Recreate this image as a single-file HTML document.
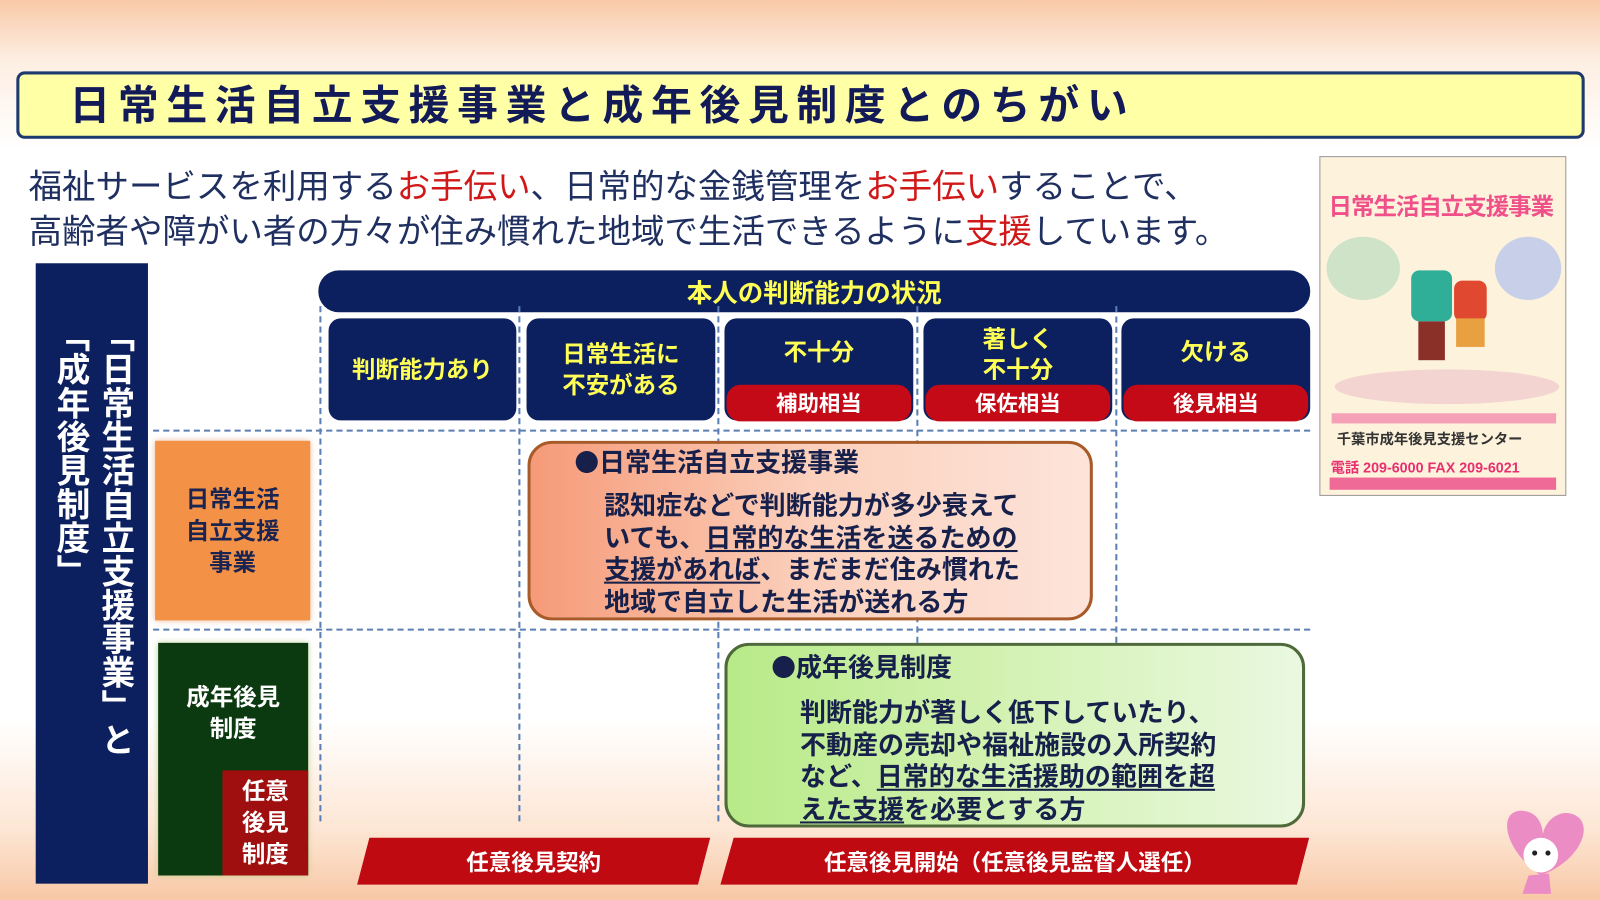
<!DOCTYPE html>
<html><head><meta charset="utf-8"><style>
*{margin:0;padding:0;box-sizing:border-box}
body{width:1600px;height:900px;position:relative;overflow:hidden;font-family:"Liberation Sans","Noto Sans CJK JP",sans-serif;font-weight:bold;
background:linear-gradient(180deg,#f9c9a8 0px,#fdeee2 60px,#ffffff 150px,#ffffff 720px,#fde6d4 830px,#f8c8a6 900px)}
#w{position:absolute;left:0;top:0;width:1568px;height:882px;transform:scale(1.0204);transform-origin:0 0}
.a{position:absolute}
.navy{background:#0c1f5e}
.c{display:flex;align-items:center;justify-content:center;text-align:center}
.cell{color:#ffff55;font-size:23px;line-height:30px;border-radius:12px}
.pill{color:#fff;font-size:21px;background:#c40a16;border-radius:14px;height:36px}
.dv{border-left:2px dashed #5b7fb5;width:0}
.dh{border-top:2px dashed #5b7fb5;height:0}
.t{color:#16204a;font-size:25.5px;line-height:31.5px;letter-spacing:0px;white-space:nowrap}
.b{font-family:"Noto Sans CJK JP",sans-serif;font-size:24px}
u{text-decoration-thickness:2px;text-underline-offset:3px}
</style></head><body><div id="w">
<div class="a" style="left:16px;top:70px;width:1537px;height:66px;background:#ffffa6;border:3px solid #1d3a6e;border-radius:8px"></div>
<div class="a" style="left:68px;top:80px;font-size:40px;letter-spacing:7.5px;color:#121a58;line-height:48px;white-space:nowrap">日常生活自立支援事業と成年後見制度とのちがい</div>
<div class="a" style="left:28px;top:161px;font-size:32.8px;line-height:44px;color:#1f2f60;font-weight:normal;white-space:nowrap">福祉サービスを利用する<span style="color:#d01818">お手伝い</span>、日常的な金銭管理を<span style="color:#d01818">お手伝い</span>することで、<br>高齢者や障がい者の方々が住み慣れた地域で生活できるように<span style="color:#d01818">支援</span>しています。</div>

<div class="a navy" style="left:35px;top:258px;width:110px;height:608px"></div>
<div class="a" style="left:94px;top:312px;writing-mode:vertical-rl;color:#fff;font-size:33px;line-height:38px">「日常生活自立支援事業」と</div>
<div class="a" style="left:50px;top:312px;writing-mode:vertical-rl;color:#fff;font-size:33px;line-height:38px">「成年後見制度」</div>

<div class="a navy c" style="left:312px;top:265px;width:972px;height:41px;border-radius:20px;color:#ffff55;font-size:25px">本人の判断能力の状況</div>

<div class="a dv" style="left:313px;top:300px;height:505px"></div>
<div class="a dv" style="left:508px;top:300px;height:505px"></div>
<div class="a dv" style="left:703px;top:300px;height:505px"></div>
<div class="a dv" style="left:898px;top:300px;height:330px"></div>
<div class="a dv" style="left:1093px;top:300px;height:330px"></div>
<div class="a dh" style="left:150px;top:421px;width:1134px"></div>
<div class="a dh" style="left:150px;top:616px;width:1134px"></div>

<div class="a navy c cell" style="left:322px;top:312px;width:184px;height:100px">判断能力あり</div>
<div class="a navy c cell" style="left:516px;top:312px;width:185px;height:100px">日常生活に<br>不安がある</div>
<div class="a navy c cell" style="left:710px;top:312px;width:185px;height:100px;align-items:flex-start;padding-top:18px">不十分</div>
<div class="a navy c cell" style="left:905px;top:312px;width:185px;height:100px;align-items:flex-start;padding-top:5px">著しく<br>不十分</div>
<div class="a navy c cell" style="left:1099px;top:312px;width:185px;height:100px;align-items:flex-start;padding-top:18px">欠ける</div>
<div class="a c pill" style="left:712px;top:377px;width:181px">補助相当</div>
<div class="a c pill" style="left:907px;top:377px;width:181px">保佐相当</div>
<div class="a c pill" style="left:1101px;top:377px;width:181px">後見相当</div>

<div class="a c" style="left:152px;top:432px;width:152px;height:176px;background:#f39246;color:#1a2452;font-size:23px;line-height:31px;box-shadow:0 0 6px #e8b090">日常生活<br>自立支援<br>事業</div>
<div class="a" style="left:155px;top:630px;width:147px;height:228px;background:#0c3a10;box-shadow:0 0 6px #b8d088"></div>
<div class="a" style="left:155px;top:668px;width:147px;text-align:center;color:#fff;font-size:23px;line-height:31px">成年後見<br>制度</div>
<div class="a c" style="left:218px;top:755px;width:84px;height:103px;background:#a00f0f;color:#fff;font-size:23px;line-height:31px">任意<br>後見<br>制度</div>

<div class="a" style="left:517px;top:432px;width:554px;height:176px;border:3px solid #a85a28;border-radius:24px;background:linear-gradient(90deg,#f69a78,#fbd0bc 50%,#fde4da)"></div>
<div class="a t" style="left:563px;top:436px"><span class="b">●</span>日常生活自立支援事業</div>
<div class="a t" style="left:592px;top:481px">認知症などで判断能力が多少衰えて<br>いても、<u>日常的な生活を送るための</u><br><u>支援があれば</u>、まだまだ住み慣れた<br>地域で自立した生活が送れる方</div>

<div class="a" style="left:710px;top:630px;width:569px;height:181px;border:3px solid #4f6a3a;border-radius:24px;background:linear-gradient(90deg,#b8ea88,#d4f2b4 50%,#eaf8e0)"></div>
<div class="a t" style="left:756px;top:637px"><span class="b">●</span>成年後見制度</div>
<div class="a t" style="left:784px;top:684px">判断能力が著しく低下していたり、<br>不動産の売却や福祉施設の入所契約<br>など、<u>日常的な生活援助の範囲を超</u><br><u>えた支援</u>を必要とする方</div>

<svg class="a" style="left:0;top:0" width="1568" height="882">
<polygon points="362,821 696,821 684,867 350,867" fill="#c00a12"/>
<polygon points="719,821 1283,821 1271,867 706,867" fill="#c00a12"/>
<path d="M1510,858 C1470,830 1468,790 1495,795 C1508,797 1512,810 1512,818 C1515,800 1535,790 1548,802 C1560,815 1545,845 1510,858Z" fill="#ec8cc4"/>
<circle cx="1510" cy="838" r="17" fill="#fff"/>
<circle cx="1504" cy="836" r="2.5" fill="#222"/><circle cx="1517" cy="836" r="2.5" fill="#222"/>
<path d="M1498,858 L1492,876 L1520,876 L1518,856Z" fill="#ec8cc4"/>
</svg>
<div class="a c" style="left:350px;top:821px;width:346px;height:46px;color:#fff;font-size:22px">任意後見契約</div>
<div class="a c" style="left:706px;top:821px;width:577px;height:46px;color:#fff;font-size:22px">任意後見開始（任意後見監督人選任）</div>

<div class="a" style="left:1293px;top:153px;width:242px;height:333px;background:#fdf3dc;border:1px solid #999"></div>
<div class="a" style="left:1302px;top:183px;font-size:23px;color:#f0508a;letter-spacing:-1px;white-space:nowrap">日常生活自立支援事業</div>
<div class="a" style="left:1300px;top:232px;width:72px;height:62px;border-radius:50%;background:#cfe3c8"></div>
<div class="a" style="left:1465px;top:232px;width:65px;height:62px;border-radius:50%;background:#c8cfe8"></div>
<div class="a" style="left:1383px;top:265px;width:40px;height:50px;background:#2fae98;border-radius:8px"></div>
<div class="a" style="left:1390px;top:315px;width:26px;height:38px;background:#8a3028"></div>
<div class="a" style="left:1425px;top:275px;width:32px;height:40px;background:#e04830;border-radius:8px"></div>
<div class="a" style="left:1427px;top:312px;width:28px;height:28px;background:#e8a040"></div>
<div class="a" style="left:1308px;top:362px;width:220px;height:34px;border-radius:50%;background:#f4d4d0"></div>
<div class="a" style="left:1305px;top:405px;width:220px;height:10px;background:#f6a0b8"></div>
<div class="a" style="left:1310px;top:420px;font-size:14px;color:#333;white-space:nowrap">千葉市成年後見支援センター</div>
<div class="a" style="left:1304px;top:448px;font-size:14px;color:#e83070;white-space:nowrap">電話 209-6000 FAX 209-6021</div>
<div class="a" style="left:1303px;top:468px;width:222px;height:12px;background:#f06a98"></div>
</div></body></html>
